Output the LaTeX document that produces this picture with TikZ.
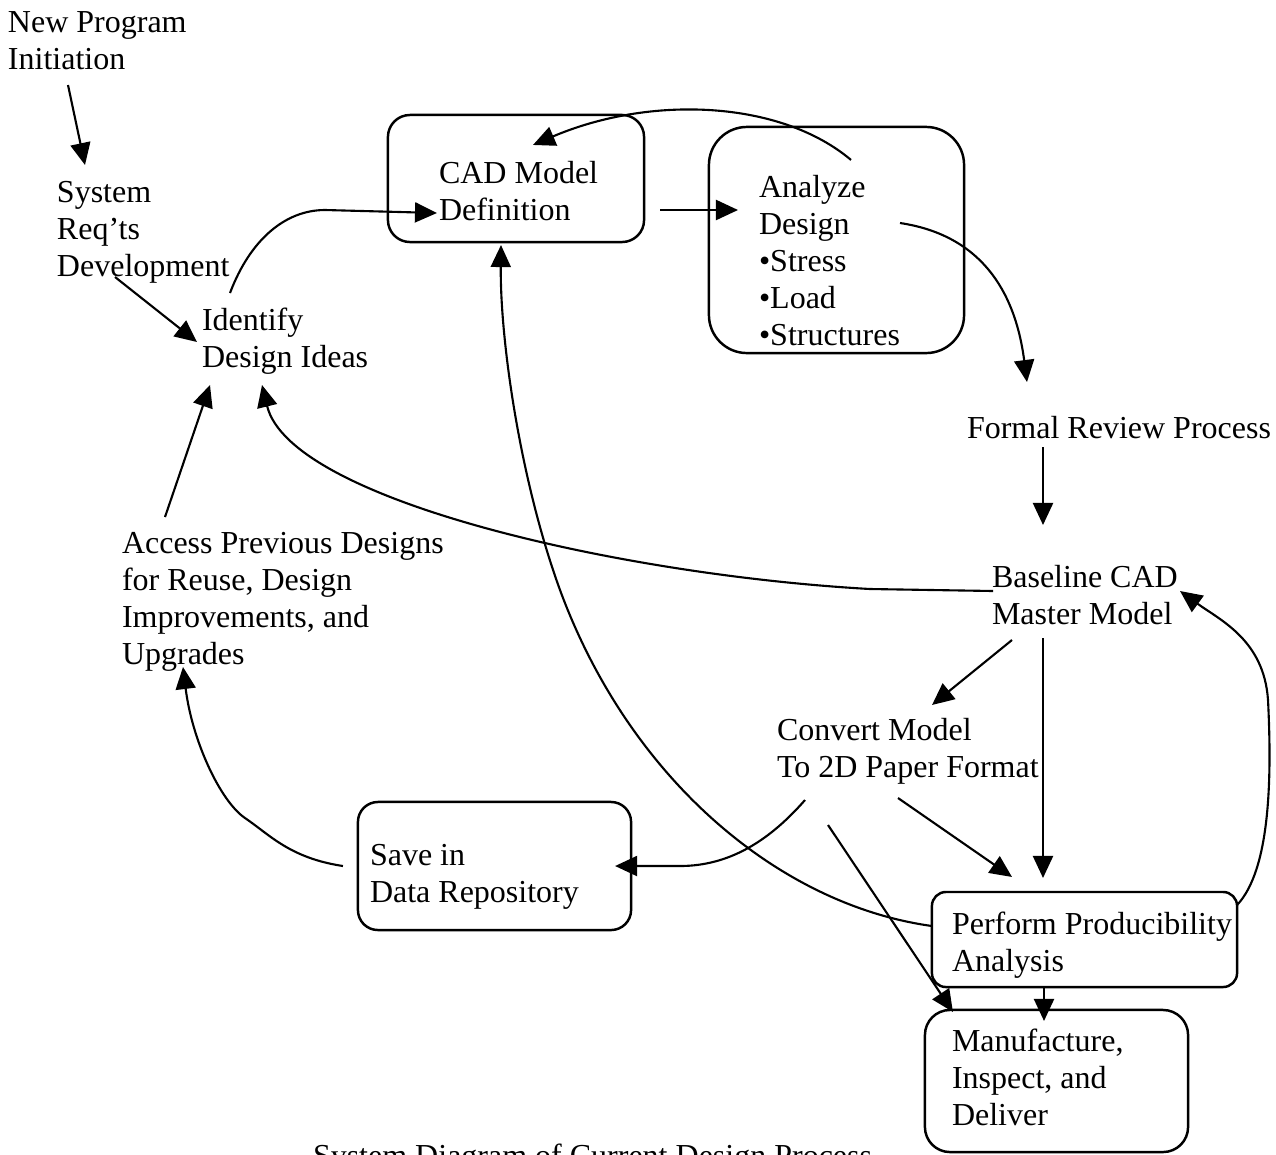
\documentclass[tikz,border=0pt]{standalone}
\usepackage{fontspec}
\setmainfont{Liberation Serif}
\usetikzlibrary{arrows.meta}
\newcommand{\mlines}[1]{\begin{tabular}[t]{@{}l@{}}#1\end{tabular}}
\begin{document}
\begin{tikzpicture}[x=0.01cm,y=-0.01cm,
  every node/.style={font=\fontsize{9.1}{10.53}\selectfont},
  txt/.style={anchor=base west, inner sep=0pt, outer sep=0pt},
  box/.style={draw, line width=0.7pt, inner sep=0pt, outer sep=0pt},
  conn/.style={line width=0.6pt, -{Triangle[length=0.22cm,width=0.2cm]}}]
\useasboundingbox (0,0) rectangle (1276,1154);

% boxes
\node[box, rounded corners=0.22cm, minimum width=2.56cm, minimum height=1.27cm] (cadbox) at (516,178.5) {};
\node[box, rounded corners=0.38cm, minimum width=2.55cm, minimum height=2.26cm] (anbox) at (836.5,240) {};
\node[box, rounded corners=0.2cm, minimum width=2.73cm, minimum height=1.28cm] (savebox) at (494.5,866) {};
\node[box, rounded corners=0.14cm, minimum width=3.05cm, minimum height=0.95cm] (perfbox) at (1084.5,939.5) {};
\node[box, rounded corners=0.25cm, minimum width=2.63cm, minimum height=1.42cm] (manbox) at (1056.5,1081) {};

% texts
\node[txt] (npi) at (8,32) {\mlines{New Program\\Initiation}};
\node[txt] (srd) at (57,202) {\mlines{System\\Req’ts\\Development}};
\node[txt] (idi) at (202,330) {\mlines{Identify\\Design Ideas}};
\node[txt] (cadt) at (439,183) {\mlines{CAD Model\\Definition}};
\node[txt] (ant) at (759,197) {\mlines{Analyze\\Design\\•Stress\\•Load\\•Structures}};
\node[txt] (frp) at (967,438) {Formal Review Process};
\node[txt] (bcad) at (992,587) {\mlines{Baseline CAD\\Master Model}};
\node[txt] (conv) at (777,740) {\mlines{Convert Model\\To 2D Paper Format}};
\node[txt] (apd) at (122,553) {\mlines{Access Previous Designs\\for Reuse, Design\\Improvements, and\\Upgrades}};
\node[txt] (savet) at (370,865) {\mlines{Save in\\Data Repository}};
\node[txt] (perft) at (952,934) {\mlines{Perform Producibility\\Analysis}};
\node[txt] (mant) at (952,1051) {\mlines{Manufacture,\\Inspect, and\\Deliver}};
\node[txt] (cap) at (313,1166) {System Diagram of Current Design Process};

% connectors
\draw[conn] ([shift={(60,53)}]npi.base west) -- ([shift={(28,-37)}]srd.base west);
\draw[conn] ([shift={(58,75)}]srd.base west) -- ([shift={(-5,12)}]idi.base west);
\draw[conn] ([shift={(28,-37)}]idi.base west) .. controls (250,240) and (285,210) .. (325,210) -- ([shift={(-2,30)}]cadt.base west);
\draw[conn] ([shift={(16,31.5)}]cadbox.east) -- ([shift={(-21,13)}]ant.base west);
\draw[conn] ([shift={(14.5,33)}]anbox.north) .. controls (780,100) and (650,95) .. ([shift={(17,30)}]cadbox.north);
\draw[conn] ([shift={(141,26)}]ant.base west) .. controls (980,235) and (1015,290) .. ([shift={(60,-56)}]frp.base west);
\draw[conn] ([shift={(76,9)}]frp.base west) -- ([shift={(51,-62)}]bcad.base west);
\draw[conn] ([shift={(1,4)}]bcad.base west) -- (870,589) .. controls (620,575) and (290,500) .. ([shift={(60,55)}]idi.base west);
\draw[conn] ([shift={(20,53)}]bcad.base west) -- ([shift={(155,-35)}]conv.base west);
\draw[conn] ([shift={(51,51)}]bcad.base west) -- ([shift={(-41.5,-14)}]perfbox.north);
\draw[conn] ([shift={(121,58)}]conv.base west) -- ([shift={(-72.5,-15)}]perfbox.north);
\draw[conn] ([shift={(28,60)}]conv.base west) .. controls (770,840) and (730,866) .. (680,866) -- ([shift={(-16,0)}]savebox.east);
\draw[conn] ([shift={(51,85)}]conv.base west) -- ([shift={(28,2)}]manbox.north west);
\draw[conn] ([shift={(-40.5,0)}]perfbox.south) -- ([shift={(-12.5,11)}]manbox.north);
\draw[conn] ([shift={(0,-13.5)}]perfbox.west) .. controls (780,905) and (630,780) .. (560,590) .. controls (520,480) and (500,340) .. ([shift={(-15,3)}]cadbox.south);
\draw[conn] ([shift={(0,13)}]perfbox.north east) .. controls (1270,870) and (1272,780) .. (1268,700) .. controls (1264,640) and (1220,620) .. ([shift={(188,4)}]bcad.base west);
\draw[conn] ([shift={(-15,0)}]savebox.west) .. controls (290,858) and (270,835) .. (245,818) .. controls (220,801) and (192,740) .. ([shift={(61,114)}]apd.base west);
\draw[conn] ([shift={(43,-36)}]apd.base west) -- ([shift={(8,55)}]idi.base west);
\end{tikzpicture}
\end{document}
